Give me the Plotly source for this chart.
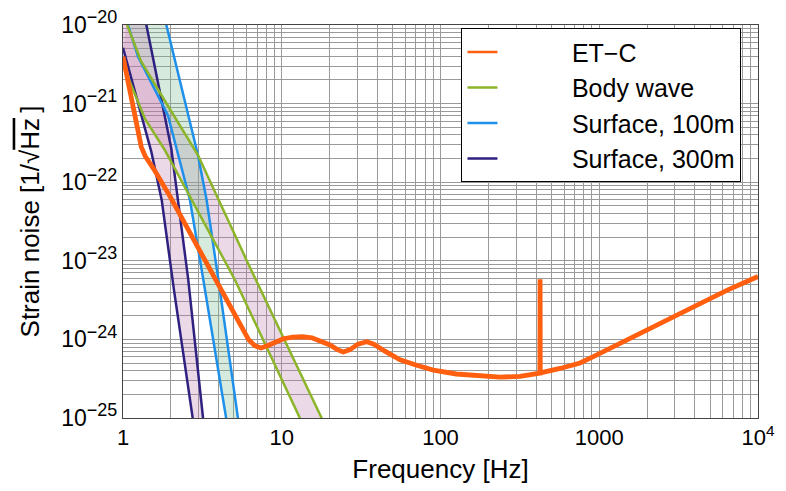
import plotly.graph_objects as go

# ---------------- data ----------------
etc_freq = [1.0, 1.072, 1.161, 1.245, 1.303, 1.380, 1.549, 1.977, 2.818, 4.083, 4.955, 5.623,
            6.166, 6.761, 7.413, 8.128, 9.12, 10.23, 11.75, 13.49, 15.49, 17.78, 20.14, 22.39,
            24.43, 26.92, 30.2, 34.28, 38.02, 44.67, 55.59, 70.79, 90.16, 125.9, 177.8, 237.1,
            316.2, 423.0, 424.0, 425.0, 566.2, 756.8, 918.3, 1259, 1991, 2818, 3917, 6310, 10000]
etc_strain = [3.95e-21, 2.0e-21, 9.12e-22, 4.37e-22, 2.82e-22, 2.14e-22, 1.51e-22, 6.61e-23,
              1.78e-23, 4.68e-24, 2.34e-24, 1.38e-24, 1.0e-24, 8.32e-25, 7.76e-25, 8.32e-25,
              9.33e-25, 1.02e-24, 1.07e-24, 1.08e-24, 1.05e-24, 9.55e-25, 8.51e-25, 7.41e-25,
              6.92e-25, 7.41e-25, 8.71e-25, 9.33e-25, 8.71e-25, 7.08e-25, 5.5e-25, 4.68e-25,
              4.07e-25, 3.63e-25, 3.39e-25, 3.31e-25, 3.39e-25, 3.72e-25, 5.82e-24, 3.75e-25,
              4.27e-25, 5.01e-25, 6.03e-25, 8.32e-25, 1.32e-24, 1.86e-24, 2.63e-24, 4.17e-24,
              6.31e-24]

body_upper_freq = [1.0, 1.064, 1.303, 1.875, 2.965, 6.124, 17.86, 22.39]
body_upper = [1.38e-20, 1.0e-20, 3.41e-21, 1.01e-21, 2.22e-22, 9.33e-24, 9.9e-26, 3.8e-26]
body_lower_freq = [1.0, 1.371, 1.832, 2.449, 5.077, 13.03, 15.85]
body_lower = [3.10e-21, 6.5e-22, 2.57e-22, 8.77e-23, 5.70e-24, 9.9e-26, 4.27e-26]

s100_upper_freq = [1.413, 1.875, 2.965, 3.365, 3.990, 5.297, 5.754]
s100_upper = [1.05e-19, 1.0e-20, 2.22e-22, 5.89e-23, 5.75e-24, 1.0e-25, 3.2e-26]
s100_lower_freq = [1.0, 1.075, 1.243, 1.919, 2.642, 3.206, 4.477, 4.898]
s100_lower = [1.58e-20, 1.0e-20, 3.98e-21, 7.08e-22, 5.89e-23, 5.75e-24, 1.0e-25, 3.2e-26]

s300_upper_freq = [1.202, 1.403, 2.014, 2.228, 2.576, 3.192, 3.388]
s300_upper = [5.0e-20, 1.0e-20, 2.69e-22, 5.89e-23, 5.75e-24, 1.0e-25, 3.2e-26]
s300_lower_freq = [1.0, 1.507, 1.754, 2.094, 2.748, 2.951]
s300_lower = [5.13e-21, 2.45e-22, 5.89e-23, 4.27e-24, 1.0e-25, 3.5e-26]

x_tickvals = [1, 10, 100, 1000, 10000]
x_ticktext = ["1", "10", "100", "1000", "10<sup>4</sup>"]
y_tickvals = [1e-25, 1e-24, 1e-23, 1e-22, 1e-21, 1e-20]
y_exponents = ["\u221225", "\u221224", "\u221223", "\u221222", "\u221221", "\u221220"]
y_ticktext = ["10<sup><span style='font-size:18px'>%s</span></sup>" % e for e in y_exponents]

names = ["ET\u2212C", "Body wave", "Surface, 100m", "Surface, 300m"]

# ---------------- styles ----------------
C_ORANGE = "#FF5F0F"
C_GREEN = "#8DB52A"
C_BLUE = "#1E90EA"
C_PURPLE = "#2E2180"
F_PINK = "rgba(185,120,170,0.28)"
F_GREEN = "rgba(120,190,145,0.30)"

fig = go.Figure()


def band(fu, u, fl, l, color):
    fig.add_trace(go.Scatter(x=list(fu) + list(fl)[::-1], y=list(u) + list(l)[::-1],
                             mode="lines", fill="toself", fillcolor=color,
                             line=dict(width=0), showlegend=False, hoverinfo="skip"))


band(body_upper_freq, body_upper, body_lower_freq, body_lower, F_PINK)
band(s100_upper_freq, s100_upper, s100_lower_freq, s100_lower, F_GREEN)
band(s300_upper_freq, s300_upper, s300_lower_freq, s300_lower, F_PINK)


def line(f, v, color, width):
    fig.add_trace(go.Scatter(x=f, y=v, mode="lines", line=dict(color=color, width=width),
                             showlegend=False, hoverinfo="skip"))


line(s300_upper_freq, s300_upper, C_PURPLE, 2.5)
line(s300_lower_freq, s300_lower, C_PURPLE, 2.5)
line(s100_upper_freq, s100_upper, C_BLUE, 2.5)
line(s100_lower_freq, s100_lower, C_BLUE, 2.5)
line(body_upper_freq, body_upper, C_GREEN, 2.5)
line(body_lower_freq, body_lower, C_GREEN, 2.5)
line(etc_freq, etc_strain, C_ORANGE, 4.8)

# legend entries (thin sample lines, as in the reference)
PAD = "\u00a0" * 10
for nm, col in zip(names, [C_ORANGE, C_GREEN, C_BLUE, C_PURPLE]):
    fig.add_trace(go.Scatter(x=[None], y=[None], mode="lines", name=PAD + nm,
                             line=dict(color=col, width=2.5), showlegend=True))

FONT = "Liberation Sans, Arial, sans-serif"
grid = "#9a9a9a"

# page body has an 8px margin: compensate so the plot frame sits where the reference has it
fig.update_layout(
    width=778, height=483,
    margin=dict(l=115, r=28, t=17, b=73, autoexpand=False),
    paper_bgcolor="white", plot_bgcolor="white",
    font=dict(family=FONT, size=22, color="black"),
    showlegend=True,
    legend=dict(x=0.533, y=0.992, xanchor="left", yanchor="top",
                bgcolor="white", bordercolor="black", borderwidth=1,
                font=dict(size=25), tracegroupgap=0),
    xaxis=dict(type="log", range=[0, 4], tickvals=x_tickvals, ticktext=x_ticktext,
               showgrid=True, gridcolor=grid, gridwidth=1,
               minor=dict(dtick="D1", showgrid=True, gridcolor=grid, gridwidth=1),
               showline=True, mirror=True, linecolor="#444", linewidth=1,
               ticks="", zeroline=False, tickfont=dict(size=22),
               ticklabeloverflow="allow",
               title=dict(text="Frequency [Hz]", font=dict(size=26), standoff=10)),
    yaxis=dict(type="log", range=[-25, -20], tickvals=y_tickvals, ticktext=y_ticktext,
               showgrid=True, gridcolor=grid, gridwidth=1,
               minor=dict(dtick="D1", showgrid=True, gridcolor=grid, gridwidth=1),
               showline=True, mirror=True, linecolor="#444", linewidth=1,
               ticks="", zeroline=False, tickfont=dict(size=23),
               ticklabeloverflow="allow",
               title=dict(text="Strain noise [1/\u221a<span style='text-decoration:overline'>Hz</span>\u2009]",
                          font=dict(size=26), standoff=14)),
)

fig.write_html("out.html")
